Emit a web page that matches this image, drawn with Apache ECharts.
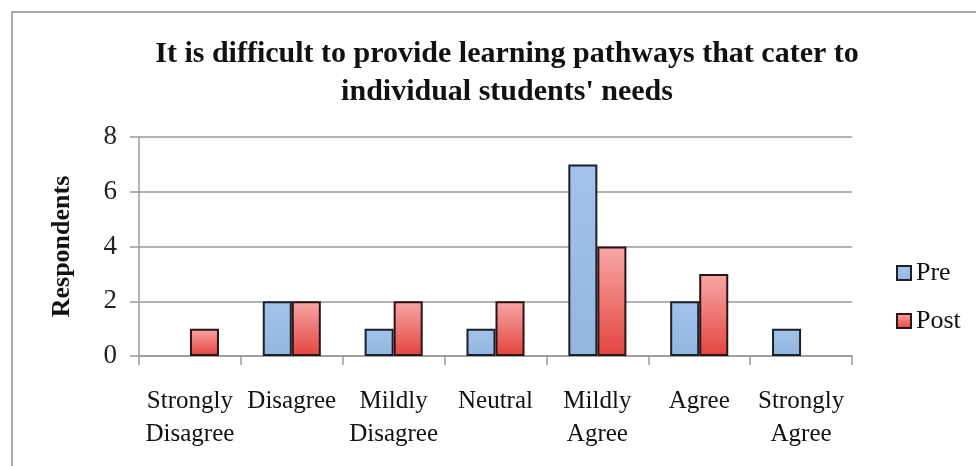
<!DOCTYPE html>
<html>
<head>
    <meta charset="utf-8" />
    <title>Respondents chart</title>
    <script src="https://cdn.jsdelivr.net/npm/echarts@6/dist/echarts.min.js"></script>
    <style>
        body { margin: 0; background: #fff; }
        #main { width: 976px; height: 466px; }
    </style>
</head>
<body>
<div id="main"></div>
<script type="text/javascript">
    var categories = ['Strongly\nDisagree', 'Disagree', 'Mildly\nDisagree', 'Neutral', 'Mildly\nAgree', 'Agree', 'Strongly\nAgree'];
    var preData = [0, 2, 1, 1, 7, 2, 1];
    var postData = [1, 2, 2, 2, 4, 3, 0];
    var yTicks = [0, 2, 4, 6, 8];

    var font = '"Liberation Serif", "DejaVu Serif", serif';
    var gridColor = '#9a9a9a';

    // zero counts draw no bar at all (no flat outline)
    function noZero(arr) {
        return arr.map(function (v) { return v === 0 ? '-' : v; });
    }

    var myChart = echarts.init(document.getElementById('main'));
    var option = {
        backgroundColor: '#fff',
        animation: false,
        title: {
            text: 'It is difficult to provide learning pathways that cater to\nindividual students\' needs',
            left: 502,
            top: 30,
            textAlign: 'center',
            textStyle: {
                fontFamily: font,
                fontWeight: 'bold',
                fontSize: 30,
                lineHeight: 38,
                color: '#111'
            }
        },
        legend: {
            orient: 'vertical',
            left: 891,
            top: 255,
            itemWidth: 14,
            itemHeight: 14,
            itemGap: 22,
            icon: 'rect',
            textStyle: { fontFamily: font, fontSize: 26, color: '#111', padding: [0, 0, 0, 0] },
            data: ['Pre', 'Post']
        },
        graphic: [{
            type: 'rect',
            shape: { x: 12, y: 12, width: 1000, height: 500 },
            style: { fill: 'none', stroke: '#aaaaaa', lineWidth: 2 },
            silent: true
        }],
        grid: { left: 139, right: 124, top: 137, bottom: 110 },
        xAxis: {
            type: 'category',
            data: categories,
            axisLine: { lineStyle: { color: gridColor, width: 1.5 } },
            axisTick: { show: true, length: 9, lineStyle: { color: gridColor, width: 1.5 } },
            axisLabel: {
                interval: 0,
                margin: 29,
                fontFamily: font,
                fontSize: 25,
                lineHeight: 33,
                color: '#111'
            }
        },
        yAxis: {
            type: 'value',
            min: yTicks[0],
            max: yTicks[yTicks.length - 1],
            interval: 2,
            name: 'Respondents',
            nameLocation: 'middle',
            nameGap: 64,
            nameTextStyle: { fontFamily: font, fontWeight: 'bold', fontSize: 26, color: '#111' },
            axisLine: { show: true, lineStyle: { color: gridColor, width: 1.5 } },
            axisTick: { show: true, length: 9, lineStyle: { color: gridColor, width: 1.5 } },
            splitLine: { lineStyle: { color: gridColor, width: 1.5 } },
            axisLabel: { margin: 22, fontFamily: font, fontSize: 27, color: '#222' }
        },
        series: [
            {
                name: 'Pre',
                type: 'bar',
                data: noZero(preData),
                barGap: '0%',
                barCategoryGap: '43%',
                itemStyle: {
                    color: new echarts.graphic.LinearGradient(0, 0, 0, 1, [
                        { offset: 0, color: '#a2c3ea' },
                        { offset: 1, color: '#92b6e0' }
                    ]),
                    borderColor: '#1b1f28',
                    borderWidth: 2
                }
            },
            {
                name: 'Post',
                type: 'bar',
                data: noZero(postData),
                itemStyle: {
                    color: new echarts.graphic.LinearGradient(0, 0, 0, 1, [
                        { offset: 0, color: '#f8a8a6' },
                        { offset: 1, color: '#e3443f' }
                    ]),
                    borderColor: '#2a1414',
                    borderWidth: 2
                }
            }
        ]
    };
    myChart.setOption(option);
</script>
</body>
</html>
